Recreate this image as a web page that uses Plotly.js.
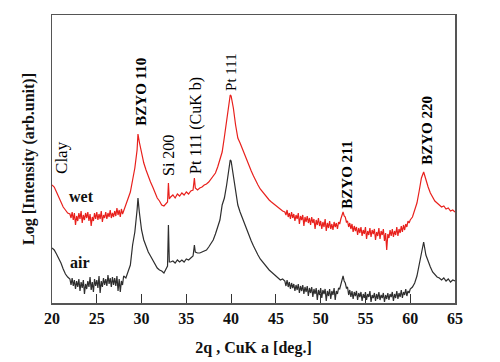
<!DOCTYPE html>
<html>
<head>
<meta charset="utf-8">
<script src="https://cdn.plot.ly/plotly-3.0.1.min.js"></script>
<style>html,body{margin:0;padding:0;background:#fff;}#chart{width:500px;height:362px;}</style>
</head>
<body>
<div id="chart"></div>
<script>
// 2-theta angles (deg)
const twoTheta = [
 20, 20.25, 20.5, 20.75, 21, 21.25, 21.5, 21.75,
 22, 22.125, 22.25, 22.375, 22.5, 22.625, 22.75, 22.875,
 23, 23.125, 23.25, 23.375, 23.5, 23.625, 23.75, 23.875,
 24, 24.125, 24.25, 24.375, 24.5, 24.625, 24.75, 24.875,
 25, 25.125, 25.25, 25.375, 25.5, 25.625, 25.75, 25.875,
 26, 26.125, 26.25, 26.375, 26.5, 26.625, 26.75, 26.875,
 27, 27.125, 27.25, 27.375, 27.5, 27.625, 27.75, 27.875,
 28,
 28.25, 28.5, 28.75, 29, 29.25, 29.5, 29.6, 29.75, 30, 30.25, 30.5, 30.75,
 31, 31.25, 31.5, 31.75, 32, 32.25, 32.5, 32.75, 32.9, 33, 33.1, 33.25, 33.5, 33.75,
 34, 34.25, 34.5, 34.75, 35, 35.25, 35.5, 35.75, 35.9, 36, 36.25, 36.5, 36.75,
 37, 37.25, 37.5, 37.75, 38, 38.25, 38.5, 38.75, 39, 39.25, 39.5, 39.75, 39.9,
 40, 40.25, 40.5, 40.75, 41, 41.25, 41.5, 41.75, 42, 42.25, 42.5, 42.75,
 43, 43.25, 43.5, 43.75, 44, 44.25, 44.5, 44.75, 45, 45.25, 45.5, 45.75,
 46, 46.125, 46.25, 46.375, 46.5, 46.625, 46.75, 46.875,
 47, 47.125, 47.25, 47.375, 47.5, 47.625, 47.75, 47.875,
 48, 48.125, 48.25, 48.375, 48.5, 48.625, 48.75, 48.875,
 49, 49.125, 49.25, 49.375, 49.5, 49.625, 49.75, 49.875,
 50, 50.125, 50.25, 50.375, 50.5, 50.625, 50.75, 50.875,
 51, 51.125, 51.25, 51.375, 51.5, 51.625, 51.75, 51.875,
 52, 52.125, 52.25, 52.375, 52.5, 52.625, 52.75, 52.875,
 53, 53.125, 53.25, 53.375, 53.5, 53.625, 53.75, 53.875,
 54, 54.125, 54.25, 54.375, 54.5, 54.625, 54.75, 54.875,
 55, 55.125, 55.25, 55.375, 55.5, 55.625, 55.75, 55.875,
 56, 56.125, 56.25, 56.375, 56.5, 56.625, 56.75, 56.875,
 57, 57.125, 57.25, 57.375, 57.5, 57.625, 57.75, 57.875,
 58, 58.125, 58.25, 58.375, 58.5, 58.625, 58.75, 58.875,
 59, 59.125, 59.25, 59.375, 59.5, 59.625, 59.75, 59.875,
 60,
 60.25, 60.5, 60.75, 61, 61.25, 61.5, 61.75, 62, 62.25, 62.5, 62.75,
 63, 63.25, 63.5, 63.75, 64, 64.25, 64.5, 64.75, 65
];

// "wet" sample, log intensity (arb. units, offset)
const wet = [
 118, 116, 111, 106, 100, 96, 93, 90,
 89, 85, 91, 83, 90, 78, 87, 82,
 90, 84, 92, 80, 88, 83, 90, 85,
 91, 82, 89, 77, 86, 82, 90, 84,
 91, 83, 89, 84, 92, 81, 88, 85,
 91, 84, 90, 86, 93, 85, 90, 86,
 92, 87, 95, 88, 93, 86, 94, 89,
 92,
 98, 106, 111, 123, 135, 153, 169, 161, 149, 140, 133, 126,
 121, 116, 110, 105, 102, 98, 97, 99, 101, 120, 104, 106, 108, 105,
 109, 107, 110, 108, 111, 109, 112, 113, 125, 115, 113, 115, 116,
 118, 119, 121, 124, 127, 130, 136, 143, 151, 166, 183, 203, 208,
 207, 195, 178, 165, 160, 154, 148, 143, 137, 132, 127, 122,
 118, 114, 111, 108, 105, 103, 101, 99, 97, 95, 94, 92,
 91, 88, 93, 86, 90, 84, 91, 85,
 89, 82, 88, 84, 90, 79, 87, 83,
 88, 77, 86, 81, 87, 80, 85, 78,
 86, 80, 84, 74, 83, 78, 85, 77,
 82, 74, 81, 76, 84, 72, 80, 75,
 82, 74, 79, 73, 81, 76, 80, 74,
 81, 79, 84, 88, 91, 87, 86, 81,
 82, 76, 80, 74, 79, 71, 77, 72,
 76, 68, 75, 70, 76, 67, 73, 69,
 76, 64, 72, 68, 75, 66, 73, 69,
 74, 63, 71, 67, 75, 64, 72, 68,
 74, 62, 70, 53, 69, 65, 73, 67,
 74, 66, 72, 68, 76, 67, 74, 70,
 77, 71, 78, 73, 79, 76, 82, 80,
 83,
 86, 92, 100, 112, 125, 131, 122, 116, 110, 106, 102,
 100, 98, 96, 97, 94, 95, 92, 93, 91
];

// "air" sample, log intensity (arb. units, offset)
const air = [
 55, 53, 49, 45, 40, 34, 29, 26,
 24, 18, 25, 17, 23, 14, 22, 16,
 24, 12, 21, 15, 23, 9, 19, 14,
 22, 16, 26, 13, 21, 11, 24, 17,
 23, 15, 27, 10, 22, 16, 25, 18,
 24, 17, 28, 19, 25, 16, 26, 18,
 25, 17, 27, 12, 24, 11, 22, 18,
 27,
 25, 31, 38, 58, 71, 93, 105, 91, 73, 63, 56, 51,
 47, 43, 38, 35, 33, 32, 30, 34, 37, 78, 41, 41, 42, 40,
 43, 41, 43, 41, 44, 43, 45, 47, 58, 51, 50, 50, 51,
 52, 53, 56, 59, 63, 69, 75, 83, 98, 105, 118, 136, 143,
 142, 128, 111, 98, 91, 85, 78, 73, 67, 62, 57, 52,
 48, 44, 41, 38, 35, 33, 31, 29, 27, 25, 23, 24,
 22, 17, 23, 16, 21, 14, 20, 15,
 19, 12, 18, 13, 19, 10, 17, 12,
 18, 9, 16, 11, 17, 7, 15, 10,
 16, 6, 14, 9, 15, 3, 13, 8,
 15, 5, 13, 9, 14, 2, 12, 7,
 14, 4, 12, 8, 15, 3, 12, 9,
 15, 14, 19, 23, 27, 22, 20, 15,
 16, 8, 13, 6, 12, 4, 11, 7,
 12, 3, 10, 6, 11, 2, 9, 5,
 11, 3, 9, 6, 12, 1, 8, 5,
 10, 2, 9, 4, 11, 3, 8, 5,
 10, 1, 8, 4, 10, 3, 9, 6,
 11, 2, 9, 5, 12, 4, 10, 6,
 13, 5, 11, 8, 14, 7, 12, 10,
 14,
 16, 20, 27, 38, 51, 61, 48, 41, 36, 31, 28,
 26, 25, 23, 25, 22, 24, 21, 23, 22
];

const xTicks = [20, 25, 30, 35, 40, 45, 50, 55, 60, 65];

// peak labels: [text, angle, intensity, bold, font size]
const peakLabels = [
 ['Clay', 21.0, 146, false, 17],
 ['BZYO 110', 29.9, 211, true, 15],
 ['Si 200', 32.95, 148, false, 16],
 ['Pt 111 (CuK b)', 36.07, 178, false, 16],
 ['Pt 111', 39.98, 231, false, 15],
 ['BZYO 211', 52.9, 128, true, 15],
 ['BZYO 220', 61.85, 173, true, 15]
];
const sampleLabels = [
 ['wet', 23.3, 107],
 ['air', 23.1, 41]
];

const serif = 'Liberation Serif, Times New Roman, serif';

const traces = [
 {x: twoTheta, y: wet, type: 'scatter', mode: 'lines', name: 'wet',
  line: {color: '#e8201c', width: 1.2}},
 {x: twoTheta, y: air, type: 'scatter', mode: 'lines', name: 'air',
  line: {color: '#2e2e2e', width: 1.2}}
];

const annotations = [];
peakLabels.forEach(p => annotations.push({
 text: p[0], x: p[1], y: p[2], xref: 'x', yref: 'y', showarrow: false,
 textangle: -90, xanchor: 'center', yanchor: 'middle',
 font: {family: serif, size: p[4], color: '#000', weight: p[3] ? 'bold' : 'normal'}
}));
sampleLabels.forEach(p => annotations.push({
 text: p[0], x: p[1], y: p[2], xref: 'x', yref: 'y', showarrow: false,
 xanchor: 'center', yanchor: 'middle',
 font: {family: serif, size: 16, color: '#111', weight: 'bold'}
}));

const layout = {
 width: 500, height: 362,
 margin: {l: 52, r: 45, t: 15, b: 59},
 paper_bgcolor: '#fff', plot_bgcolor: '#fff',
 showlegend: false,
 xaxis: {
  range: [20, 65], tickvals: xTicks, ticks: 'inside', ticklen: 9, tickwidth: 1.2,
  tickcolor: '#333', showline: true, mirror: true, linecolor: '#555', linewidth: 1.5,
  showgrid: false, zeroline: false,
  tickfont: {family: serif, size: 16, color: '#111', weight: 'bold'},
  title: {text: '2q , CuK a [deg.]', standoff: 16,
   font: {family: serif, size: 16, color: '#111', weight: 'bold'}}
 },
 yaxis: {
  range: [0, 288], showticklabels: false, ticks: '',
  showline: true, mirror: true, linecolor: '#555', linewidth: 1.5,
  showgrid: false, zeroline: false,
  title: {text: 'Log [Intensity (arb.unit)]', standoff: 12,
   font: {family: serif, size: 16, color: '#111', weight: 'bold'}}
 },
 annotations: annotations
};

if (twoTheta.length !== wet.length || twoTheta.length !== air.length) {
 console.error('length mismatch', twoTheta.length, wet.length, air.length);
}

Plotly.newPlot('chart', traces, layout, {staticPlot: true, displayModeBar: false});
</script>
</body>
</html>
